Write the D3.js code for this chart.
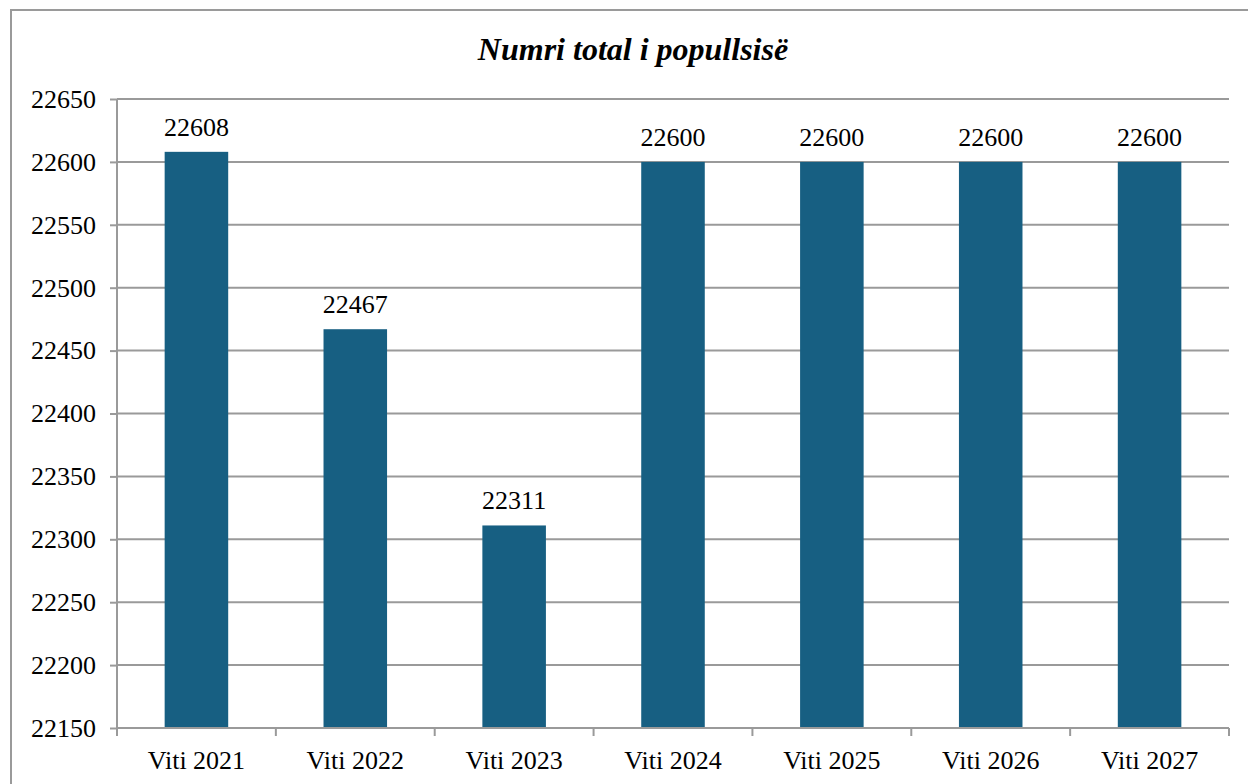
<!DOCTYPE html>
<html>
<head>
<meta charset="utf-8">
<script src="https://cdn.jsdelivr.net/npm/d3@7"></script>
<style>
  body { margin: 0; background: #fff; }
</style>
</head>
<body>
<div id="chart"></div>
<script>
// data
var categories = ["Viti 2021", "Viti 2022", "Viti 2023", "Viti 2024", "Viti 2025", "Viti 2026", "Viti 2027"];
var values = [22608, 22467, 22311, 22600, 22600, 22600, 22600];
var yTicks = [22150, 22200, 22250, 22300, 22350, 22400, 22450, 22500, 22550, 22600, 22650];
var title = "Numri total i popullsisë";

var FONT = "Liberation Serif";
var W = 1248, H = 784;
var margin = {top: 99, right: 19, bottom: 56, left: 117},
    width = W - margin.left - margin.right,
    height = H - margin.top - margin.bottom;

var svg = d3.select("#chart").append("svg")
  .attr("width", W)
  .attr("height", H);

// outer frame (runs off the right and bottom of the picture)
svg.append("rect")
  .attr("x", 11).attr("y", 10)
  .attr("width", W + 20).attr("height", H + 20)
  .attr("fill", "none")
  .attr("stroke", "#9a9a9a")
  .attr("stroke-width", 2);

svg.append("text")
  .attr("x", 633).attr("y", 60)
  .attr("text-anchor", "middle")
  .attr("font-family", FONT)
  .attr("font-size", 32)
  .attr("font-weight", "bold")
  .attr("font-style", "italic")
  .text(title);

var g = svg.append("g")
  .attr("transform", "translate(" + margin.left + "," + margin.top + ")");

var x = d3.scaleBand().domain(categories).range([0, width]).paddingInner(0.6).paddingOuter(0.3);
var xb = d3.scaleLinear().domain([0, categories.length]).range([0, width]);
var y = d3.scaleLinear().domain([22150, 22650]).range([height, 0]);

// gridlines
g.append("g")
  .selectAll("line")
  .data(yTicks)
  .enter().append("line")
  .attr("x1", 0).attr("x2", width)
  .attr("y1", function(d) { return y(d); })
  .attr("y2", function(d) { return y(d); })
  .attr("stroke", "#9a9a9a")
  .attr("stroke-width", 2);

// bars
g.append("g")
  .selectAll("rect")
  .data(values)
  .enter().append("rect")
  .attr("x", function(d, i) { return x(categories[i]); })
  .attr("width", x.bandwidth())
  .attr("y", function(d) { return y(d); })
  .attr("height", function(d) { return height - y(d); })
  .attr("fill", "#175f82");

// value labels
g.append("g")
  .selectAll("text")
  .data(values)
  .enter().append("text")
  .attr("x", function(d, i) { return x(categories[i]) + x.bandwidth() / 2; })
  .attr("y", function(d) { return y(d) - 16; })
  .attr("text-anchor", "middle")
  .attr("font-family", FONT)
  .attr("font-size", 26)
  .text(function(d) { return d; });

// y axis
var yAxis = d3.axisLeft(y).tickValues(yTicks).tickSize(7).tickPadding(14).tickFormat(d3.format("d"));
var ya = g.append("g").call(yAxis)
  .attr("font-family", FONT)
  .attr("font-size", 26);
ya.select(".domain").remove();
ya.selectAll(".tick line").attr("stroke", "#9a9a9a").attr("stroke-width", 2);
ya.selectAll("text").attr("fill", "#000").attr("dy", "0.32em");
ya.append("line")
  .attr("x1", 0).attr("x2", 0).attr("y1", 0).attr("y2", height + 8)
  .attr("stroke", "#9a9a9a").attr("stroke-width", 2);

// x axis: ticks at category boundaries
var xa = g.append("g").attr("transform", "translate(0," + height + ")");
xa.append("line")
  .attr("x1", 0).attr("x2", width)
  .attr("stroke", "#9a9a9a").attr("stroke-width", 2);
xa.selectAll("line.tk")
  .data(d3.range(categories.length + 1))
  .enter().append("line")
  .attr("class", "tk")
  .attr("x1", function(d) { return xb(d); })
  .attr("x2", function(d) { return xb(d); })
  .attr("y1", 0).attr("y2", 8)
  .attr("stroke", "#9a9a9a").attr("stroke-width", 2);
xa.selectAll("text")
  .data(categories)
  .enter().append("text")
  .attr("x", function(d) { return x(d) + x.bandwidth() / 2; })
  .attr("y", 41)
  .attr("text-anchor", "middle")
  .attr("font-family", FONT)
  .attr("font-size", 26)
  .text(function(d) { return d; });
</script>
</body>
</html>
